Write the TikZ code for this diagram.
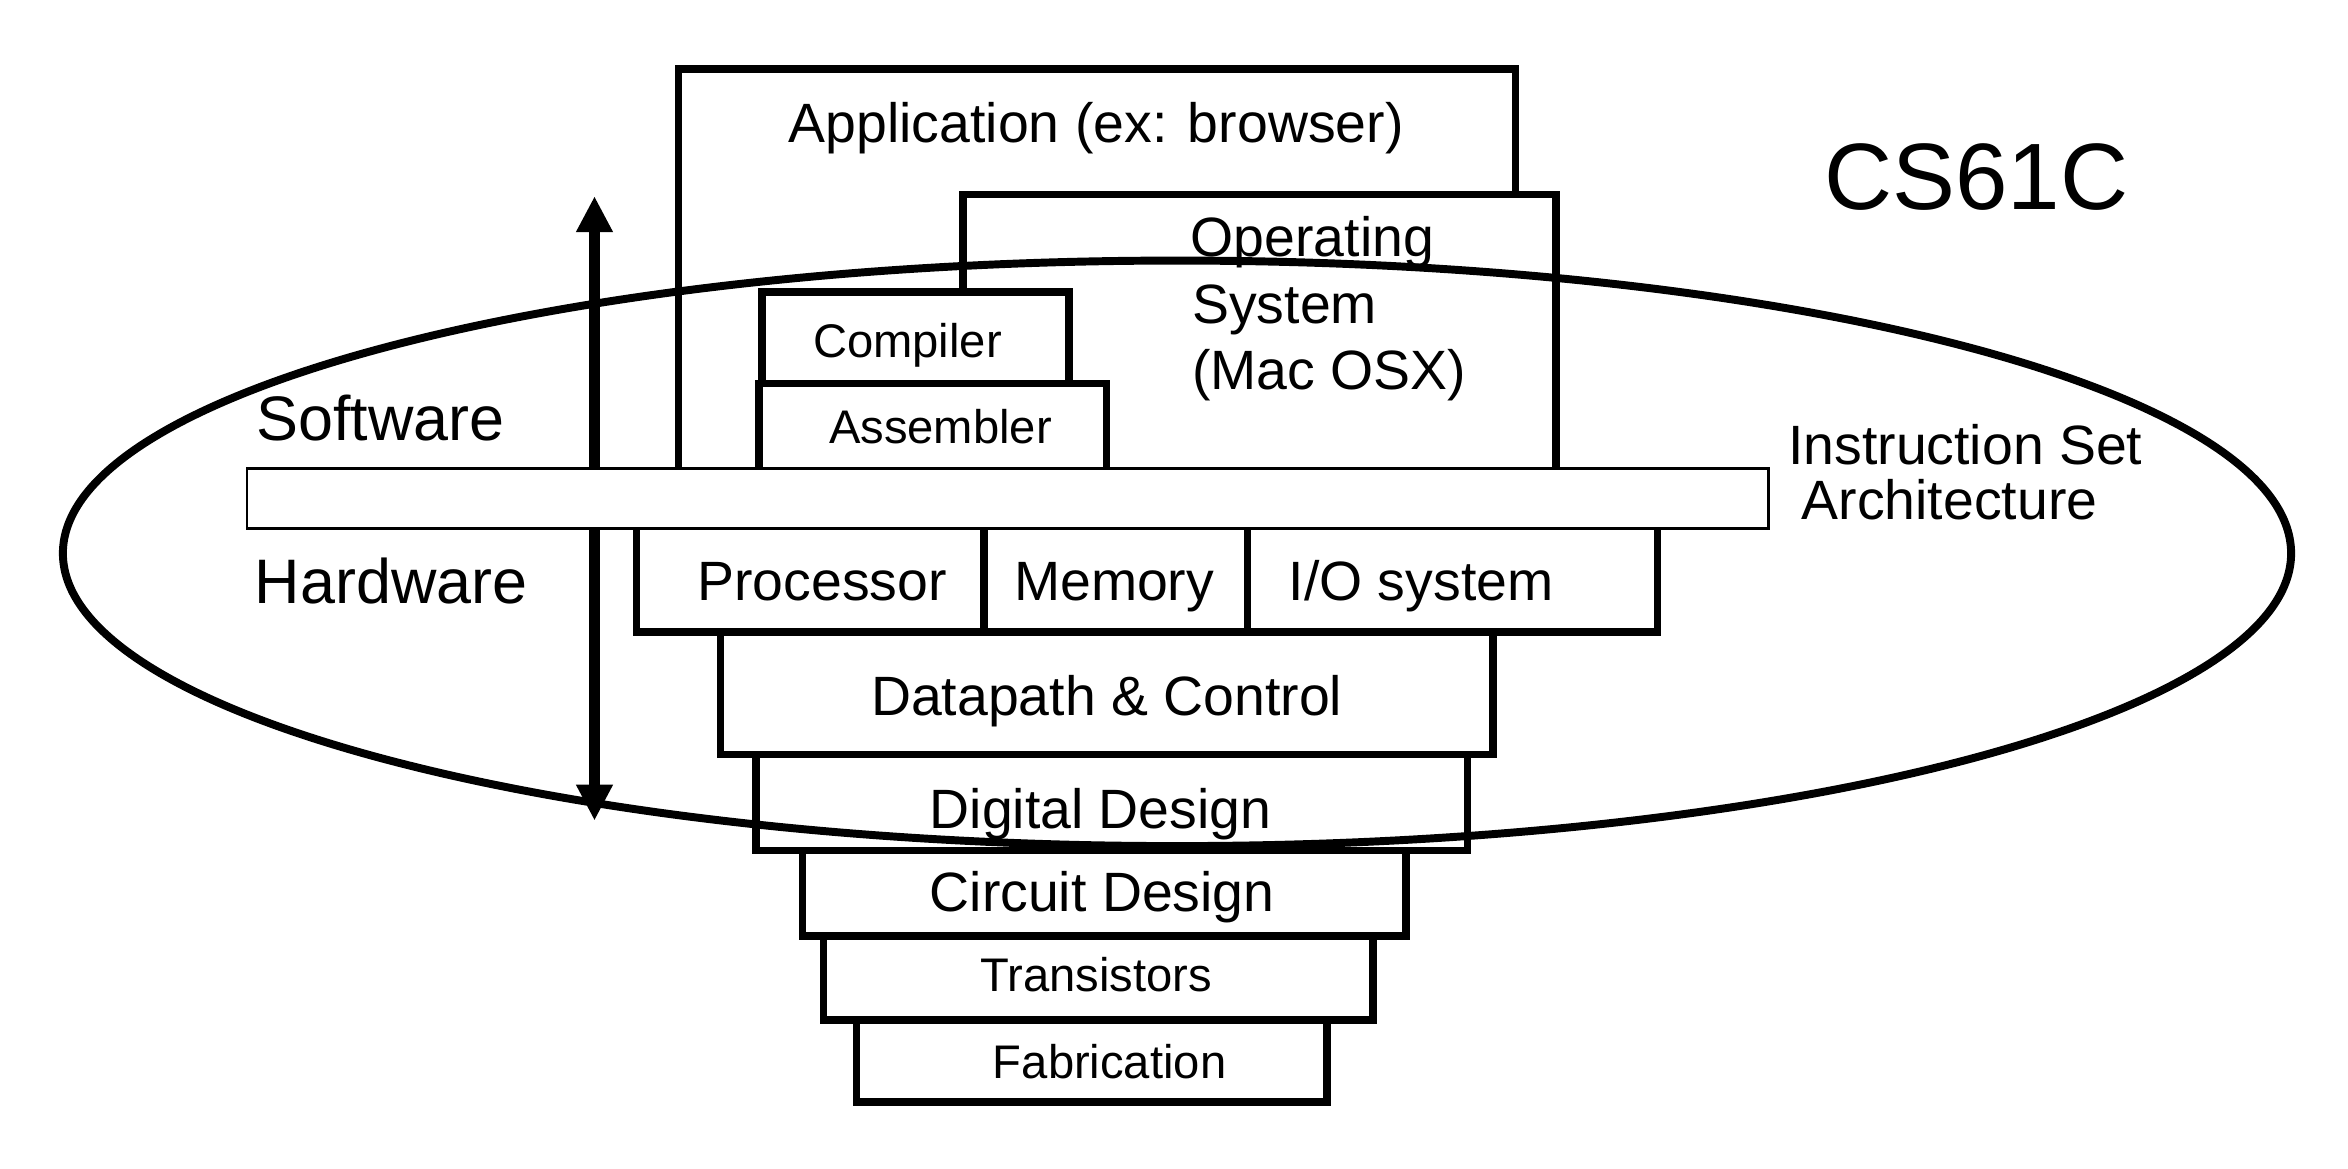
\documentclass[tikz,border=0pt]{standalone}
\usepackage{fontspec}
\setmainfont{Liberation Sans}
\usetikzlibrary{arrows.meta,shapes.geometric}
\begin{document}
\begin{tikzpicture}[x=1pt,y=-1pt,
  box/.style={draw, line width=5pt, fill=white, inner sep=0pt, outer sep=0pt, anchor=north west},
  bar/.style={draw, line width=1.8pt, fill=white, inner sep=0pt, outer sep=0pt, anchor=north west},
  lbl/.style={anchor=base, inner sep=0pt, font=\fontsize{37}{44}\selectfont},
  lbll/.style={anchor=base west, inner sep=0pt, font=\fontsize{37}{44}\selectfont},
  sml/.style={anchor=base, inner sep=0pt, font=\fontsize{31.5}{38}\selectfont},
  big/.style={anchor=base west, inner sep=0pt, font=\fontsize{42}{50}\selectfont},
  ttl/.style={anchor=base west, inner sep=0pt, font=\fontsize{63}{75}\selectfont},
  updown/.style={{Triangle[width=23pt,length=24pt]}-{Triangle[width=23pt,length=24pt]}, line width=7.5pt}
]
\useasboundingbox (0,0) rectangle (1568,780);
% software stack
\node[box, minimum width=559pt, minimum height=270pt] (app) at (453,46) {};
\node[box, minimum width=396pt, minimum height=186pt] (os) at (643,130) {};
\node[box, minimum width=232pt, minimum height=60pt] (asm) at (507,256) {};
\node[box, minimum width=205pt, minimum height=61pt] (comp) at (509,195) {};
% hardware stack
\node[box, minimum width=232pt, minimum height=72pt] (proc) at (425,350) {};
\node[box, minimum width=176pt, minimum height=72pt] (mem) at (657,350) {};
\node[box, minimum width=274pt, minimum height=72pt] (io) at (833,350) {};
\node[box, minimum width=516pt, minimum height=82pt] (dp) at (481,422) {};
\node[box, minimum width=475pt, minimum height=64pt] (dd) at (505,504) {};
\node[box, minimum width=403pt, minimum height=57pt] (cd) at (536,568) {};
\node[box, minimum width=367pt, minimum height=56pt] (tr) at (550,625) {};
\node[box, minimum width=314pt, minimum height=55pt] (fab) at (572,681) {};
% arrow
\coordinate (top) at (397,131);
\coordinate (bot) at (397,548);
\draw[updown] (bot) -- (top);
% ISA bar
\node[bar, minimum width=1016pt, minimum height=40pt] (isa) at (165,313) {};
% ellipse
\node[draw, ellipse, line width=5.3pt, minimum width=1488pt, minimum height=391pt, inner sep=0pt] (scope) at (786,369.5) {};
% texts
\node[lbl] (tapp) at (732,95) {Application (ex: browser)};
\node[lbll] (tos1) at (795,171) {Operating};
\node[lbll] (tos2) at (796,216) {System};
\node[lbll] (tos3) at (796,260) {(Mac OSX)};
\node[sml] (tcomp) at (606,239) {Compiler};
\node[sml] (tasm) at (628,296) {Assembler};
\node[big] (tsw) at (171,294) {Software};
\node[big] (thw) at (170,403) {Hardware};
\node[lbll] (tisa1) at (1194,310) {Instruction Set};
\node[lbll] (tisa2) at (1203,347) {Architecture};
\node[ttl] (tcs) at (1218,140) {CS61C};
\node[lbl] (tproc) at (549,401) {Processor};
\node[lbl] (tmem) at (744,401) {Memory};
\node[lbl] (tio) at (949,401) {I/O system};
\node[lbl] (tdp) at (739,478) {Datapath \& Control};
\node[lbl] (tdd) at (735,553) {Digital Design};
\node[lbl] (tcd) at (736,609) {Circuit Design};
\node[sml] (ttr) at (732,662) {Transistors};
\node[sml] (tfab) at (741,720) {Fabrication};
\end{tikzpicture}
\end{document}
